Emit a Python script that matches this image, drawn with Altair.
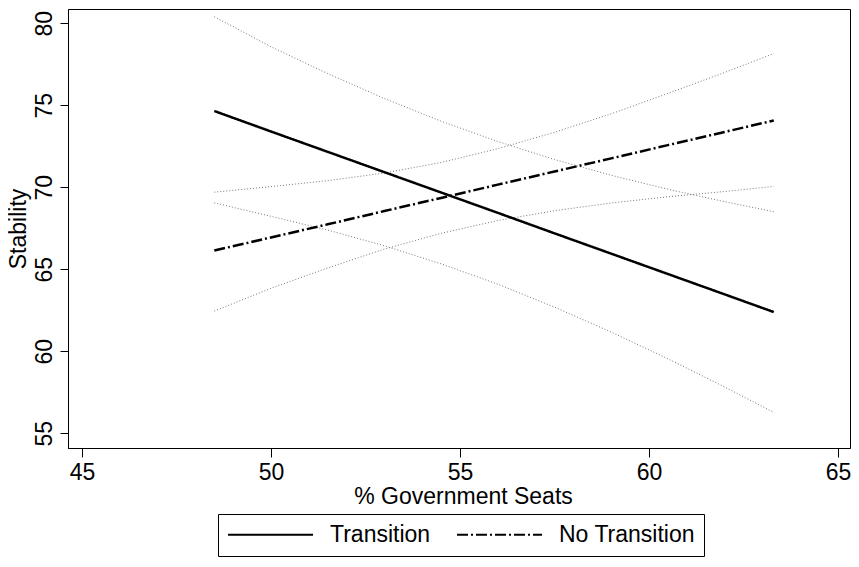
import altair as alt
import pandas as pd

# values
x_vals = [48.5, 50, 51.5, 53, 54.5, 56, 57.5, 59, 60.5, 62, 63.3]
trans_fit = [74.65, 73.40, 72.16, 70.92, 69.68, 68.44, 67.19, 65.95, 64.71, 63.47, 62.39]
trans_hi = [80.40, 78.57, 76.93, 75.41, 74.03, 72.79, 71.69, 70.73, 69.88, 69.12, 68.51]
trans_lo = [69.05, 68.23, 67.39, 66.43, 65.33, 64.09, 62.69, 61.17, 59.54, 57.82, 56.27]
notr_fit = [66.14, 66.94, 67.74, 68.55, 69.35, 70.16, 70.96, 71.76, 72.57, 73.37, 74.07]
notr_hi = [69.70, 70.04, 70.40, 70.87, 71.51, 72.35, 73.35, 74.48, 75.72, 77.00, 78.15]
notr_lo = [62.45, 63.84, 65.08, 66.23, 67.19, 67.97, 68.57, 69.04, 69.42, 69.74, 70.05]

series_names = ["Transition", "No Transition"]
x_ticks = [45, 50, 55, 60, 65]
y_ticks = [55, 60, 65, 70, 75, 80]

main_rows = []
for name, ys in [("Transition", trans_fit), ("No Transition", notr_fit)]:
    for xv, yv in zip(x_vals, ys):
        main_rows.append({"x": xv, "y": yv, "series": name})
main_df = pd.DataFrame(main_rows)

ci_rows = []
for band, ys in [("t_hi", trans_hi), ("t_lo", trans_lo), ("n_hi", notr_hi), ("n_lo", notr_lo)]:
    for xv, yv in zip(x_vals, ys):
        ci_rows.append({"x": xv, "y": yv, "band": band})
ci_df = pd.DataFrame(ci_rows)

FONT = "Liberation Sans"
FS = 23

xscale = alt.Scale(domain=[44.630, 65.317], nice=False, zero=False)
yscale = alt.Scale(domain=[54.10, 80.87], nice=False, zero=False)

xaxis = alt.Axis(values=x_ticks, title="% Government Seats", grid=False, tickSize=9,
                 labelFontSize=FS, titleFontSize=FS, labelPadding=4, titlePadding=1,
                 labelFont=FONT, titleFont=FONT, titleFontWeight="normal",
                 domainColor="black", tickColor="black", labelColor="black",
                 titleColor="black", format="d", labelFlush=False, titleX=395)
yaxis = alt.Axis(values=y_ticks, title="Stability", grid=False, tickSize=8,
                 labelFontSize=FS, titleFontSize=FS, labelPadding=4, titlePadding=3,
                 labelAngle=270, labelAlign="center", labelBaseline="bottom",
                 labelFont=FONT, titleFont=FONT, titleFontWeight="normal",
                 domainColor="black", tickColor="black", labelColor="black",
                 titleColor="black", format="d", labelFlush=False)

ci_layer = alt.Chart(ci_df).mark_line(color="#777777", strokeWidth=1, strokeDash=[1, 2]).encode(
    x=alt.X("x:Q", scale=xscale, axis=xaxis),
    y=alt.Y("y:Q", scale=yscale, axis=yaxis),
    detail="band:N",
)

leg = alt.Legend(title=None, orient="none", legendX=150, legendY=505, direction="horizontal",
                 symbolType="stroke", symbolSize=7225, symbolStrokeWidth=2,
                 labelFontSize=FS, labelFont=FONT, labelColor="black",
                 strokeColor="black", padding=9, columnPadding=25, labelOffset=16,
                 clipHeight=23, labelLimit=0)

main_layer = alt.Chart(main_df).mark_line(strokeWidth=2.5).encode(
    x=alt.X("x:Q", scale=xscale),
    y=alt.Y("y:Q", scale=yscale),
    color=alt.Color("series:N", scale=alt.Scale(domain=series_names, range=["black", "black"]),
                    legend=leg, sort=series_names),
    strokeDash=alt.StrokeDash("series:N", scale=alt.Scale(domain=series_names,
                              range=[[1, 0], [11, 3, 2, 3]]), legend=leg, sort=series_names),
)

chart = alt.layer(ci_layer, main_layer).properties(
    width=782, height=439,
    autosize=alt.AutoSizeParams(type="none"),
    padding={"left": 60, "top": 1, "right": 1, "bottom": 111},
    background="white",
).configure_view(stroke="black", strokeWidth=1)

chart.save("out.html", embed_options={"renderer": "svg", "actions": False})
